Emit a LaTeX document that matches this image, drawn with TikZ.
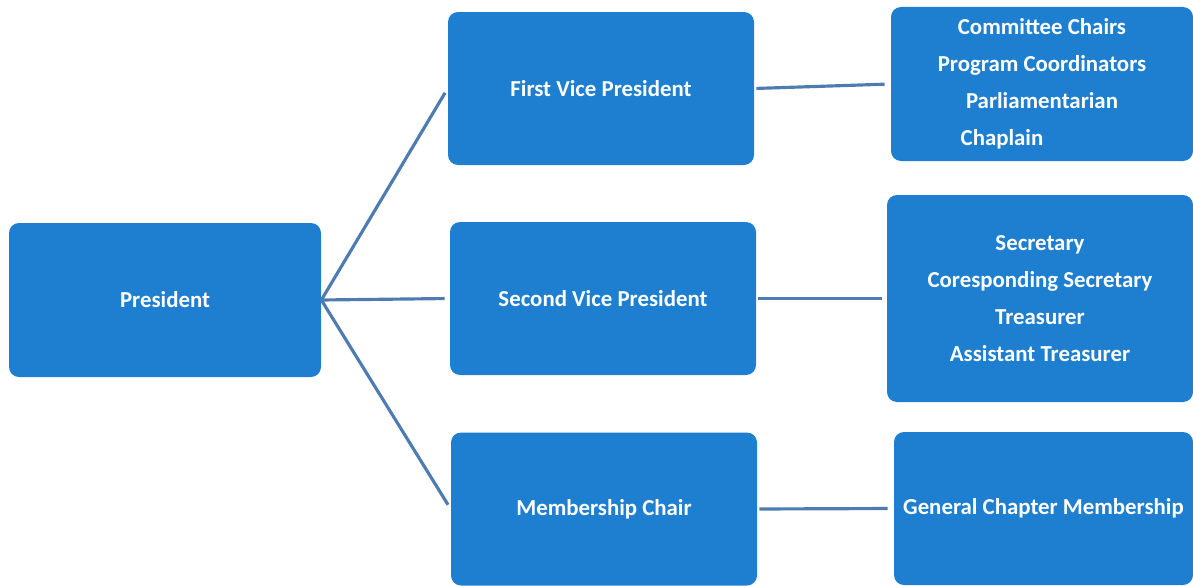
\documentclass[tikz,border=0pt]{standalone}
\usepackage{fontspec}
\setmainfont{Carlito}
\usetikzlibrary{positioning}

\definecolor{boxblue}{RGB}{30,126,208}
\definecolor{linkblue}{RGB}{78,124,178}

\begin{document}
\begin{tikzpicture}[
  office/.style={fill=boxblue, rounded corners=0.2cm, text=white,
    font=\bfseries\fontsize{13}{21}\selectfont, align=center,
    inner sep=0pt, minimum width=6.12cm, minimum height=3.06cm},
  link/.style={linkblue, line width=1.8pt}
]

\useasboundingbox (0,0) rectangle (23.86,-11.72);

\node[office, minimum width=6.24cm, minimum height=3.08cm] (president) at (3.30,-6.00) {President};

\node[office] (firstvp) at (12.02,-1.77) {First Vice President};
\node[office] (secondvp) at (12.06,-5.97) {Second Vice President};
\node[office] (membership) at (12.08,-10.18) {Membership Chair};

\node[office, minimum width=6.04cm, minimum height=3.08cm] (chairs) at (20.84,-1.68) {
Committee Chairs\\
Program Coordinators\\
Parliamentarian\\
Chaplain\hspace*{1.6cm}
};

\node[office, minimum height=4.14cm] (officers) at (20.80,-5.97) {
Secretary\\
Coresponding Secretary\\
Treasurer\\
Assistant Treasurer
};

\node[office, minimum width=5.98cm] (general) at (20.87,-10.17) {General Chapter Membership};

% president to the three branches
\draw[link, shorten >=0.1cm] (president.east) -- (firstvp.west);
\draw[link, shorten >=0.1cm] (president.east) -- (secondvp.west);
\draw[link, shorten >=0.1cm] (president.east) -- (membership.west);

% branches to their groups
\draw[link, shorten <=0.04cm, shorten >=0.12cm] (firstvp.east) -- (chairs.west);
\draw[link, shorten <=0.04cm, shorten >=0.1cm] (secondvp.east) -- (officers.west);
\draw[link, shorten <=0.04cm, shorten >=0.12cm] (membership.east) -- (general.west);

\end{tikzpicture}
\end{document}
